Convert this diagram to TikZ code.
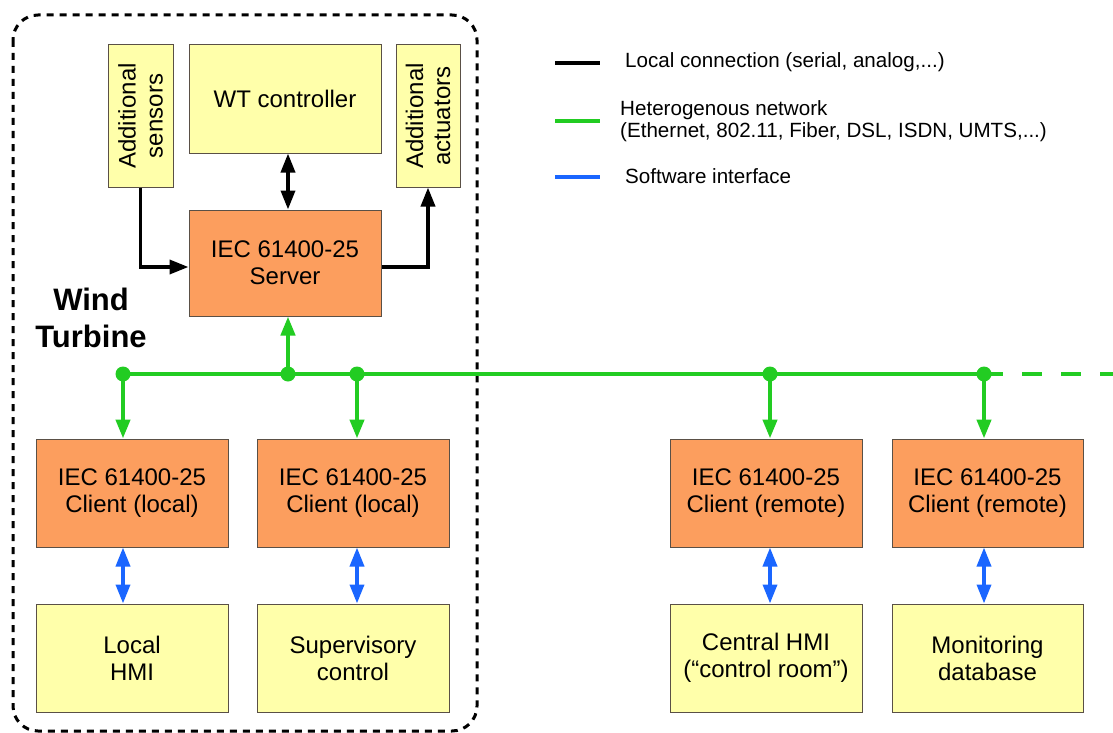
\documentclass[tikz,border=0pt]{standalone}
\usepackage{fontspec}
\setmainfont{Liberation Sans}
\usetikzlibrary{arrows.meta}
\definecolor{boxyel}{RGB}{255,255,170}
\definecolor{boxora}{RGB}{252,158,94}
\definecolor{boxline}{RGB}{90,80,70}
\definecolor{netgreen}{RGB}{34,204,34}
\definecolor{swblue}{RGB}{26,102,255}
\tikzset{
  yelbox/.style={draw=boxline, line width=1pt, fill=boxyel, align=center, inner sep=2pt,
    font=\fontsize{24}{27}\selectfont},
  orabox/.style={draw=boxline, line width=1pt, fill=boxora, align=center, inner sep=2pt,
    font=\fontsize{24}{27}\selectfont},
  legtext/.style={anchor=west, inner sep=0pt, align=left, font=\fontsize{20.6}{22.5}\selectfont},
  blk/.style={draw=black, line width=3.6pt},
  grn/.style={draw=netgreen, line width=4.2pt},
  blu/.style={draw=swblue, line width=3.6pt},
  tipA/.style={-{Triangle[length=19pt,width=14pt]}},
  tipAA/.style={{Triangle[length=19pt,width=14pt]}-{Triangle[length=19pt,width=14pt]}},
  dotnode/.style={circle, fill=netgreen, inner sep=0pt, minimum size=15pt},
  border/.style={draw=black, line width=3pt, dash pattern=on 7pt off 6pt, rounded corners=25pt}
}
\begin{document}
\begin{tikzpicture}[x=1pt,y=-1pt]
\useasboundingbox (0,0) rectangle (1113,733);
\fill[white] (0,0) rectangle (1113,733);

% wind turbine border
\draw[border] (13,15) rectangle (477,731);
\node[font=\fontsize{31}{37}\selectfont\bfseries, align=center] (wtlabel) at (91,318) {Wind\\Turbine};

% top boxes
\node[yelbox, rotate=90, minimum width=142pt, minimum height=65pt] (sens) at (140.5,116) {Additional\\sensors};
\node[yelbox, minimum width=192pt, minimum height=108pt] (wt) at (285,99) {WT controller};
\node[yelbox, rotate=90, minimum width=142pt, minimum height=64pt] (act) at (428,116) {Additional\\actuators};
\node[orabox, minimum width=192pt, minimum height=106pt] (srv) at (285,263) {IEC 61400-25\\Server};

% clients
\node[orabox, minimum width=192pt, minimum height=108pt] (c1) at (132,493) {IEC 61400-25\\Client (local)};
\node[orabox, minimum width=192pt, minimum height=108pt] (c2) at (353,493) {IEC 61400-25\\Client (local)};
\node[orabox, minimum width=192pt, minimum height=108pt] (c3) at (766,493) {IEC 61400-25\\Client (remote)};
\node[orabox, minimum width=191pt, minimum height=108pt] (c4) at (987.5,493) {IEC 61400-25\\Client (remote)};

% applications
\node[yelbox, minimum width=192pt, minimum height=108pt] (a1) at (132,658) {Local\\HMI};
\node[yelbox, minimum width=192pt, minimum height=108pt] (a2) at (353,658) {Supervisory\\control};
\node[yelbox, minimum width=192pt, minimum height=108pt] (a3) at (766,658) {Central HMI\\(“control room”)};
\node[yelbox, minimum width=191pt, minimum height=108pt] (a4) at (987.5,658) {Monitoring\\database};

% local connections
\draw[blk, tipA] (sens.west) |- ([yshift=-4pt]srv.west);
\draw[blk, tipA] ([yshift=-4pt]srv.east) -| (act.west);
\draw[blk, tipAA] ([xshift=3pt]wt.south) -- ([xshift=3pt]srv.north);

% network bus
\coordinate (d1) at (123,374);
\coordinate (d2) at (288,374);
\coordinate (d3) at (357,374);
\coordinate (d4) at (770,374);
\coordinate (d5) at (984,374);
\coordinate (busend) at (1002,374);
\coordinate (busfar) at (1113,374);
\draw[grn] (d1) -- (busend);
\draw[grn, dash pattern=on 20pt off 19pt, dash phase=-20pt] (busend) -- (busfar);
\draw[grn, tipA] (d2) -- (d2 |- srv.south);
\draw[grn, tipA] (d1) -- (d1 |- c1.north);
\draw[grn, tipA] (d3) -- (d3 |- c2.north);
\draw[grn, tipA] (d4) -- (d4 |- c3.north);
\draw[grn, tipA] (d5) -- (d5 |- c4.north);
\foreach \d in {d1,d2,d3,d4,d5} \node[dotnode] at (\d) {};

% software interfaces
\draw[blu, tipAA] (d1 |- c1.south) -- (d1 |- a1.north);
\draw[blu, tipAA] (d3 |- c2.south) -- (d3 |- a2.north);
\draw[blu, tipAA] (d4 |- c3.south) -- (d4 |- a3.north);
\draw[blu, tipAA] (d5 |- c4.south) -- (d5 |- a4.north);

% legend
\coordinate (l1a) at (555,63);  \coordinate (l1b) at (600,63);
\coordinate (l2a) at (555,121); \coordinate (l2b) at (600,121);
\coordinate (l3a) at (555,177); \coordinate (l3b) at (600,177);
\draw[draw=black, line width=3.2pt] (l1a) -- (l1b);
\draw[draw=netgreen, line width=3.2pt] (l2a) -- (l2b);
\draw[draw=swblue, line width=3.2pt] (l3a) -- (l3b);
\node[legtext] (t1) at (625,62) {Local connection (serial, analog,...)};
\node[legtext] (t2) at (620,121) {Heterogenous network\\(Ethernet, 802.11, Fiber, DSL, ISDN, UMTS,...)};
\node[legtext] (t3) at (625,176) {Software interface};
\end{tikzpicture}
\end{document}
